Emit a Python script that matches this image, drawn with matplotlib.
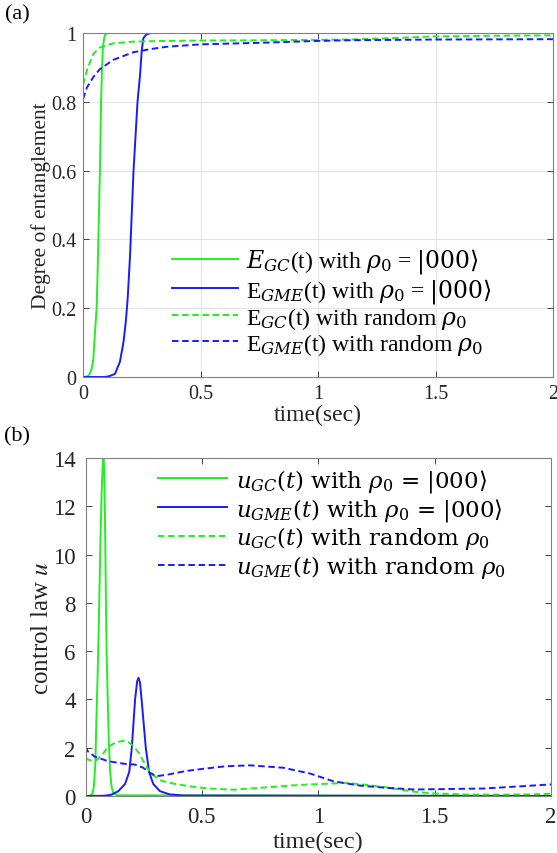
import matplotlib
matplotlib.use("Agg")
import matplotlib.pyplot as plt
from matplotlib.font_manager import FontProperties

plt.rcParams['font.family'] = ['Liberation Serif', 'DejaVu Serif']
plt.rcParams['mathtext.fontset'] = 'stix'
plt.rcParams['lines.scale_dashes'] = False

# ---------------- data: panel (a) ----------------
t_gc_a = [0, 0.02, 0.03, 0.037, 0.044, 0.051, 0.058, 0.062, 0.067, 0.072, 0.077, 0.081,
          0.085, 0.09, 0.095, 0.1, 0.12, 2.0]
e_gc_a = [0, 0.002, 0.01, 0.025, 0.052, 0.13, 0.2, 0.3, 0.45, 0.6, 0.8, 0.9,
          0.96, 0.985, 0.995, 0.999, 1.0, 1.0]

t_gme_a = [0, 0.09, 0.11, 0.136, 0.157, 0.172, 0.182, 0.19, 0.2, 0.215, 0.232, 0.243,
           0.25, 0.257, 0.27, 0.29, 0.32, 2.0]
e_gme_a = [0, 0, 0.002, 0.009, 0.044, 0.10, 0.16, 0.227, 0.35, 0.6, 0.8, 0.88,
           0.95, 0.985, 0.996, 1.0, 1.0, 1.0]

t_gc_rand_a = [0, 0.018, 0.044, 0.072, 0.129, 0.214, 0.356, 0.5, 0.8, 1.14, 1.31, 1.49, 1.75, 2.0]
e_gc_rand_a = [0.85, 0.895, 0.939, 0.958, 0.97, 0.975, 0.977, 0.978, 0.979, 0.981, 0.985,
               0.99, 0.992, 0.993]

t_gme_rand_a = [0, 0.017, 0.044, 0.072, 0.129, 0.214, 0.285, 0.356, 0.5, 0.78, 1.0, 1.14, 1.5, 2.0]
e_gme_rand_a = [0.808, 0.842, 0.872, 0.895, 0.922, 0.944, 0.953, 0.96, 0.967, 0.972, 0.977,
                0.979, 0.981, 0.982]

# ---------------- data: panel (b) ----------------
t_gc_b = [0, 0.02, 0.03, 0.036, 0.042, 0.047, 0.052, 0.056, 0.059, 0.064, 0.07, 0.075, 0.078,
          0.081, 0.085, 0.088, 0.091, 0.095, 0.1, 0.106, 0.112, 0.12, 0.14, 2.0]
u_gc_b = [0, 0.01, 0.1, 0.4, 1.3, 3.2, 5.0, 6.6, 8.0, 10.5, 12.8, 13.9, 14.0,
          13.2, 10.5, 7.8, 5.8, 4.2, 2.3, 1.0, 0.4, 0.1, 0.03, 0.0]

t_gme_b = [0, 0.08, 0.11, 0.141, 0.17, 0.188, 0.199, 0.213, 0.222, 0.228, 0.234, 0.241,
           0.259, 0.273, 0.291, 0.32, 0.36, 0.42, 2.0]
u_gme_b = [0, 0.01, 0.05, 0.2, 0.5, 1.0, 2.0, 4.0, 4.75, 4.9, 4.7, 4.0,
           2.0, 1.0, 0.5, 0.2, 0.07, 0.02, 0.0]

t_gc_rand_b = [0, 0.03, 0.05, 0.075, 0.098, 0.13, 0.163, 0.185, 0.205, 0.228, 0.248, 0.266,
               0.284, 0.327, 0.385, 0.456, 0.528, 0.635, 0.78, 0.92, 1.065, 1.12, 1.21,
               1.29, 1.41, 1.49, 1.64, 1.8, 1.92, 2.0]
u_gc_rand_b = [1.55, 1.45, 1.5, 1.75, 2.05, 2.22, 2.29, 2.22, 2.08, 1.8, 1.46, 1.15,
               0.91, 0.63, 0.5, 0.39, 0.31, 0.26, 0.36, 0.46, 0.52, 0.54, 0.46,
               0.36, 0.18, 0.11, 0.06, 0.06, 0.07, 0.09]

t_gme_rand_b = [0, 0.004, 0.01, 0.04, 0.098, 0.17, 0.213, 0.248, 0.277, 0.306, 0.356, 0.428,
                0.5, 0.6, 0.707, 0.85, 0.965, 1.065, 1.18, 1.29, 1.41, 1.566, 1.71,
                1.85, 2.0]
u_gme_rand_b = [1.0, 1.95, 1.85, 1.63, 1.44, 1.33, 1.30, 1.17, 0.96, 0.82, 0.89, 1.03,
                1.12, 1.23, 1.27, 1.17, 0.93, 0.61, 0.43, 0.34, 0.27, 0.29, 0.31,
                0.39, 0.48]

xticks = [0, 0.5, 1, 1.5, 2]
xticklabels = ['0', '0.5', '1', '1.5', '2']
yticks_a = [0, 0.2, 0.4, 0.6, 0.8, 1]
yticklabels_a = ['0', '0.2', '0.4', '0.6', '0.8', '1']
yticks_b = [0, 2, 4, 6, 8, 10, 12, 14]
yticklabels_b = ['0', '2', '4', '6', '8', '10', '12', '14']

labels_a = [r'$E_{GC}$(t) with $\rho_0$ = $|000\rangle$',
            r'E$_{GME}$(t) with $\rho_0$ = $|000\rangle$',
            r'E$_{GC}$(t) with random $\rho_0$',
            r'E$_{GME}$(t) with random $\rho_0$']
labels_b = [r'$u_{GC}(t)$ with $\rho_0$ = $|000\rangle$',
            r'$u_{GME}(t)$ with $\rho_0$ = $|000\rangle$',
            r'$u_{GC}(t)$ with random $\rho_0$',
            r'$u_{GME}(t)$ with random $\rho_0$']

GREEN = '#22ee22'
BLUE = '#1a1aff'
LW = 1.4
DASH = (4.7, 2.6)
TXT = '#262626'
SPINE = '#808080'

W, H = 557, 854
fig = plt.figure(figsize=(W / 100, H / 100), dpi=100)

def frac_axes(l, r, t, b):
    return fig.add_axes([l / W, 1 - b / H, (r - l) / W, (b - t) / H])

ax1 = frac_axes(83, 553, 34, 378)
ax2 = frac_axes(85.5, 551, 459, 797)

def style(ax, fs, pad):
    for s in ax.spines.values():
        s.set_color(SPINE)
        s.set_linewidth(0.8)
    ax.tick_params(direction='in', length=4, width=0.7, color='#404040',
                   top=True, right=True, labelsize=fs, labelcolor=TXT, pad=pad)
    ax.set_xlim(0, 2)
    ax.set_xticks(xticks)
    ax.set_xticklabels(xticklabels)

# panel (a)
ax1.plot(t_gc_a, e_gc_a, color=GREEN, lw=LW, label=labels_a[0])
ax1.plot(t_gme_a, e_gme_a, color=BLUE, lw=LW, label=labels_a[1])
ax1.plot(t_gc_rand_a, e_gc_rand_a, color=GREEN, lw=LW, dashes=DASH, label=labels_a[2])
ax1.plot(t_gme_rand_a, e_gme_rand_a, color=BLUE, lw=LW, dashes=DASH, label=labels_a[3])
style(ax1, 14.5, 5)
ax1.set_ylim(0, 1)
ax1.set_yticks(yticks_a)
ax1.set_yticklabels(yticklabels_a)
ax1.grid(True, color='#e4e4e4', lw=0.8)
ax1.set_axisbelow(True)
ax1.set_xlabel('time(sec)', fontsize=17, color=TXT, labelpad=1)
ax1.set_ylabel('Degree of entanglement', fontsize=15.5, color=TXT, labelpad=0)
prop_a = FontProperties(family=['Liberation Serif'], size=17, math_fontfamily='dejavuserif')
ax1.legend(loc='center left', bbox_to_anchor=((172 - 83) / 470, (378 - 302.5) / 344),
           frameon=False, prop=prop_a, handlelength=2.8, handletextpad=0.35,
           labelspacing=0.0, borderpad=0, borderaxespad=0)

# panel (b)
ax2.plot(t_gc_b, u_gc_b, color=GREEN, lw=LW, label=labels_b[0])
ax2.plot(t_gme_b, u_gme_b, color=BLUE, lw=LW, label=labels_b[1])
ax2.plot(t_gc_rand_b, u_gc_rand_b, color=GREEN, lw=LW, dashes=DASH, label=labels_b[2])
ax2.plot(t_gme_rand_b, u_gme_rand_b, color=BLUE, lw=LW, dashes=DASH, label=labels_b[3])
style(ax2, 16.5, 7)
ax2.set_ylim(0, 14)
ax2.set_yticks(yticks_b)
ax2.set_yticklabels(yticklabels_b)
ax2.set_xlabel('time(sec)', fontsize=17.5, color=TXT, labelpad=3)
ax2.set_ylabel(r'control law $u$', fontsize=18, color=TXT, labelpad=0)
prop_b = FontProperties(family=['DejaVu Serif'], size=16.5, math_fontfamily='dejavuserif')
ax2.legend(loc='center left', bbox_to_anchor=((158 - 85.5) / 465.5, (797 - 524.5) / 338),
           frameon=False, prop=prop_b, handlelength=3.0, handletextpad=0.4,
           labelspacing=0.08, borderpad=0, borderaxespad=0)

fig.text(17 / W, 1 - 15 / H, '(a)', fontsize=16, ha='center', va='center', color='black')
fig.text(17 / W, 1 - 437 / H, '(b)', fontsize=16, ha='center', va='center', color='black')

fig.savefig('out.png', dpi=100)
